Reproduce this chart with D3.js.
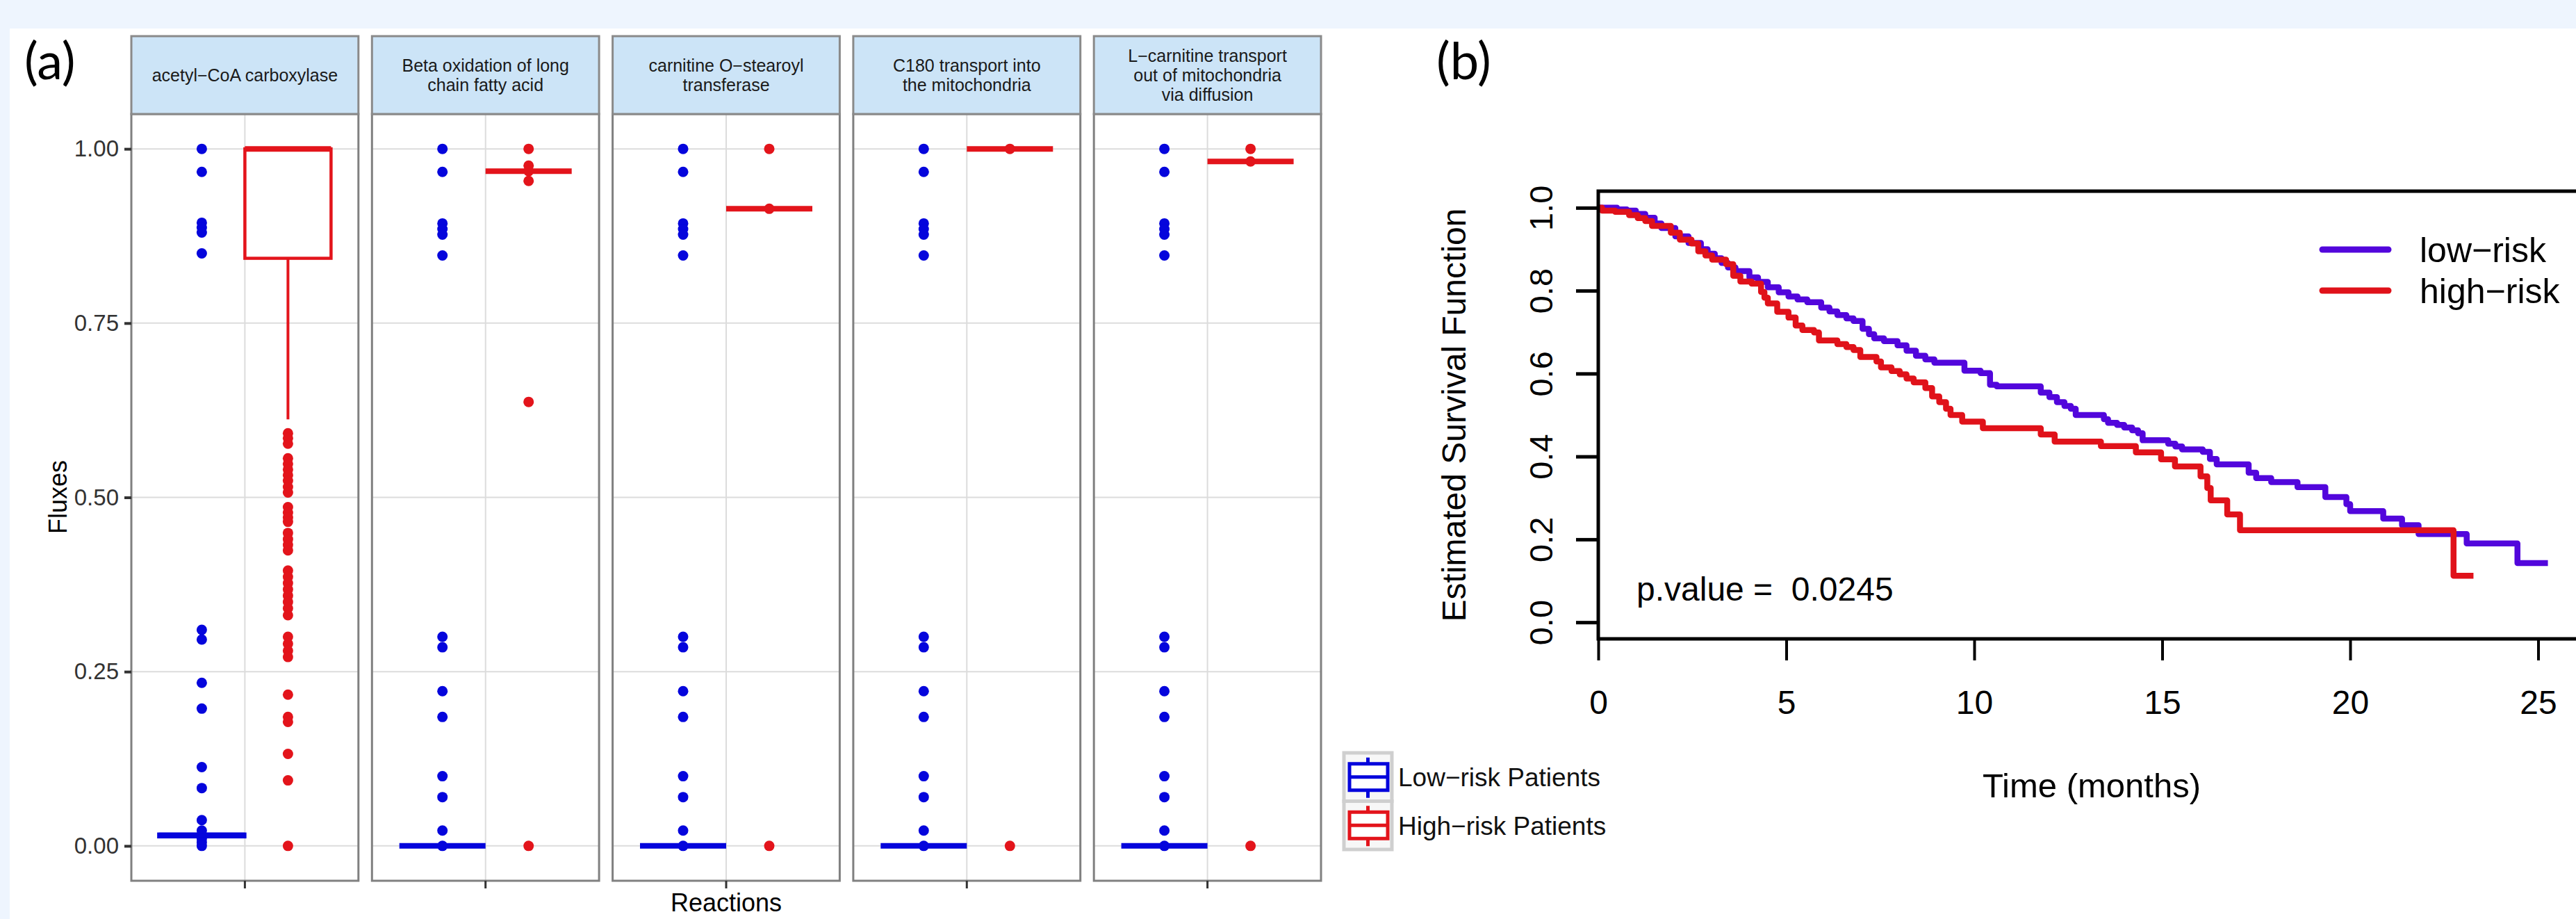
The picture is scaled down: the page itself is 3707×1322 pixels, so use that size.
<!DOCTYPE html>
<html>
<head>
<meta charset="utf-8">
<script src="https://cdn.jsdelivr.net/npm/d3@7"></script>
<style>
  html, body { margin: 0; padding: 0; background: #eef5fe; }
  svg { display: block; }
</style>
</head>
<body>
<svg id="chart" width="3707" height="1322"></svg>
<script>
// ---------------- DATA: panel (a) ----------------
const reactions = [
  "acetyl−CoA carboxylase",
  "Beta oxidation of long chain fatty acid",
  "carnitine O−stearoyl transferase",
  "C180 transport into the mitochondria",
  "L−carnitine transport out of mitochondria via diffusion"
];
const stripLines = [
  ["acetyl−CoA carboxylase"],
  ["Beta oxidation of long", "chain fatty acid"],
  ["carnitine O−stearoyl", "transferase"],
  ["C180 transport into", "the mitochondria"],
  ["L−carnitine transport", "out of mitochondria", "via diffusion"]
];
const groups = ["Low−risk Patients", "High−risk Patients"];
const fluxTicks = [0, 0.25, 0.5, 0.75, 1.0];

// box statistics: [lower whisker, q1, median, q3, upper whisker]
const lowBox = [
  [0.012, 0.013, 0.015, 0.017, 0.018],
  [0, 0, 0, 0, 0],
  [0, 0, 0, 0, 0],
  [0, 0, 0, 0, 0],
  [0, 0, 0, 0, 0]
];
const highBox = [
  [0.612, 0.843, 1.0, 1.0, 1.0],
  [0.968, 0.968, 0.968, 0.968, 0.968],
  [0.914, 0.914, 0.914, 0.914, 0.914],
  [1.0, 1.0, 1.0, 1.0, 1.0],
  [0.982, 0.982, 0.982, 0.982, 0.982]
];
const lowPoints1 = [1.0, 0.967, 0.894, 0.887, 0.880, 0.850, 0.310, 0.296, 0.234, 0.197, 0.113, 0.083, 0.037, 0.022, 0.010, 0.005, 0.0];
const lowPoints2 = [1.0, 0.967, 0.893, 0.885, 0.877, 0.847, 0.300, 0.285, 0.222, 0.185, 0.100, 0.070, 0.022, 0.0];
const lowPoints3 = [1.0, 0.967, 0.893, 0.885, 0.877, 0.847, 0.300, 0.285, 0.222, 0.185, 0.100, 0.070, 0.022, 0.0];
const lowPoints4 = [1.0, 0.967, 0.893, 0.885, 0.877, 0.847, 0.300, 0.285, 0.222, 0.185, 0.100, 0.070, 0.022, 0.0];
const lowPoints5 = [1.0, 0.967, 0.893, 0.885, 0.877, 0.847, 0.300, 0.285, 0.222, 0.185, 0.100, 0.070, 0.022, 0.0];
const highPoints1 = [0.592, 0.585, 0.577, 0.556, 0.548, 0.540, 0.532, 0.524, 0.515, 0.507, 0.486, 0.478, 0.471, 0.465,
  0.449, 0.440, 0.432, 0.424, 0.395, 0.386, 0.377, 0.368, 0.359, 0.350, 0.341, 0.331, 0.300, 0.290, 0.280, 0.271,
  0.217, 0.185, 0.178, 0.132, 0.094, 0.0];
const highPoints2 = [1.0, 0.976, 0.968, 0.954, 0.637, 0.0];
const highPoints3 = [1.0, 0.914, 0.0];
const highPoints4 = [1.0, 0.0];
const highPoints5 = [1.0, 0.982, 0.0];
const lowPoints = [lowPoints1, lowPoints2, lowPoints3, lowPoints4, lowPoints5];
const highPoints = [highPoints1, highPoints2, highPoints3, highPoints4, highPoints5];

// ---------------- DATA: panel (b) ----------------
const lowRiskTime = [0, 0.5, 0.76, 1.0, 1.25, 1.5, 1.68, 2.05, 2.4, 2.73, 2.91, 3.1, 3.28, 3.45, 3.65, 4.02, 4.25, 4.51,
  4.8, 5.06, 5.3, 5.56, 5.93, 6.15, 6.36, 6.6, 6.79, 7.03, 7.2, 7.34, 7.6, 7.96, 8.2, 8.45, 8.7, 8.94, 9.74, 10.17,
  10.42, 10.6, 11.77, 12.0, 12.2, 12.4, 12.57, 12.7, 13.45, 13.56, 13.8, 13.99, 14.2, 14.36, 14.48, 15.16, 15.35,
  15.53, 16.08, 16.27, 16.45, 17.3, 17.5, 17.9, 18.6, 19.34, 19.9, 20.0, 20.88, 21.38, 21.82, 23.1, 24.45, 25.26];
const lowRiskSurv = [1.0, 0.996, 0.993, 0.985, 0.976, 0.962, 0.951, 0.931, 0.915, 0.900, 0.889, 0.878, 0.867, 0.856,
  0.847, 0.832, 0.821, 0.808, 0.796, 0.786, 0.779, 0.772, 0.759, 0.750, 0.741, 0.733, 0.727, 0.708, 0.695, 0.685,
  0.678, 0.668, 0.655, 0.643, 0.634, 0.626, 0.607, 0.601, 0.573, 0.569, 0.554, 0.543, 0.531, 0.522, 0.515, 0.500,
  0.490, 0.481, 0.476, 0.470, 0.463, 0.456, 0.439, 0.431, 0.424, 0.417, 0.411, 0.394, 0.381, 0.361, 0.348, 0.338,
  0.326, 0.302, 0.285, 0.268, 0.250, 0.234, 0.213, 0.190, 0.143, 0.143];
const highRiskTime = [0, 0.1, 0.45, 0.82, 1.05, 1.25, 1.43, 1.93, 2.17, 2.48, 2.66, 2.85, 3.03, 3.4, 3.59, 3.78, 4.08,
  4.33, 4.42, 4.51, 4.76, 5.06, 5.25, 5.43, 5.74, 5.87, 6.36, 6.6, 6.79, 6.97, 7.4, 7.52, 7.8, 8.02, 8.2, 8.39, 8.7,
  8.88, 9.07, 9.25, 9.37, 9.68, 10.23, 11.77, 12.14, 13.37, 14.3, 14.97, 15.34, 16.02, 16.2, 16.29, 16.73, 17.07,
  22.75, 23.28];
const highRiskSurv = [1.0, 0.993, 0.990, 0.982, 0.975, 0.968, 0.956, 0.940, 0.923, 0.914, 0.895, 0.885, 0.875, 0.864,
  0.836, 0.822, 0.817, 0.797, 0.783, 0.769, 0.749, 0.735, 0.716, 0.705, 0.699, 0.680, 0.671, 0.664, 0.657, 0.640,
  0.629, 0.615, 0.606, 0.598, 0.588, 0.579, 0.565, 0.545, 0.531, 0.515, 0.500, 0.484, 0.468, 0.453, 0.436, 0.425,
  0.410, 0.393, 0.376, 0.352, 0.324, 0.294, 0.260, 0.222, 0.112, 0.112];
const timeTicks = [0, 5, 10, 15, 20, 25];
const survTicks = [0, 0.2, 0.4, 0.6, 0.8, 1.0];
const survLegend = ["low−risk", "high−risk"];
const pValueText = "p.value =  0.0245";

// ---------------- STYLE ----------------
const W = 3707, H = 1322;
const FONT = "'Liberation Sans', Arial, Helvetica, sans-serif";
const BLUE = "#0505dc", RED = "#e3141b";
const LOWC = "#5206dc", HIGHC = "#e0121a";

const svg = d3.select("#chart");
svg.append("rect").attr("width", W).attr("height", H).attr("fill", "#eef5fe");
svg.append("rect").attr("x", 14).attr("y", 41).attr("width", W - 14).attr("height", H - 41).attr("fill", "#ffffff");

// ================= PANEL (a) =================
const facetX = d3.scaleBand().domain(reactions).range([189, 1901]).paddingInner(0.0563);
const yFlux = d3.scaleLinear().domain([-0.05, 1.05]).range([1267, 164]);
const stripTop = 52, stripBottom = 164;
const gA = svg.append("g");

reactions.forEach((r, i) => {
  const x0 = facetX(r), bw = facetX.bandwidth(), cx = x0 + bw / 2;
  const gx = d3.scaleBand().domain(groups).range([cx - 124, cx + 124]);
  const g = gA.append("g");
  g.append("rect").attr("x", x0).attr("y", stripBottom).attr("width", bw)
    .attr("height", yFlux(-0.05) - stripBottom).attr("fill", "#ffffff");
  g.selectAll("line.hg").data(fluxTicks).join("line").attr("class", "hg")
    .attr("x1", x0).attr("x2", x0 + bw).attr("y1", d => yFlux(d)).attr("y2", d => yFlux(d))
    .attr("stroke", "#dcdcdc").attr("stroke-width", 2);
  g.append("line").attr("x1", cx).attr("x2", cx).attr("y1", stripBottom).attr("y2", yFlux(-0.05))
    .attr("stroke", "#dcdcdc").attr("stroke-width", 2);

  const sets = [
    { grp: groups[0], s: lowBox[i], pts: lowPoints[i], col: BLUE },
    { grp: groups[1], s: highBox[i], pts: highPoints[i], col: RED }
  ];
  sets.forEach(o => {
    const bx = gx(o.grp), w = gx.bandwidth(), mx = bx + w / 2, s = o.s;
    g.append("line").attr("x1", mx).attr("x2", mx).attr("y1", yFlux(s[3])).attr("y2", yFlux(s[4]))
      .attr("stroke", o.col).attr("stroke-width", 4);
    g.append("line").attr("x1", mx).attr("x2", mx).attr("y1", yFlux(s[1])).attr("y2", yFlux(s[0]))
      .attr("stroke", o.col).attr("stroke-width", 4);
    g.append("rect").attr("x", bx).attr("y", yFlux(s[3])).attr("width", w)
      .attr("height", Math.max(0, yFlux(s[1]) - yFlux(s[3])))
      .attr("fill", "#ffffff").attr("stroke", o.col).attr("stroke-width", 4.5);
    g.append("line").attr("x1", bx).attr("x2", bx + w).attr("y1", yFlux(s[2])).attr("y2", yFlux(s[2]))
      .attr("stroke", o.col).attr("stroke-width", 8);
    g.selectAll(null).data(o.pts).join("circle")
      .attr("cx", mx).attr("cy", d => yFlux(d)).attr("r", 7.5).attr("fill", o.col);
  });

  g.append("rect").attr("x", x0).attr("y", stripBottom).attr("width", bw)
    .attr("height", yFlux(-0.05) - stripBottom).attr("fill", "none")
    .attr("stroke", "#808080").attr("stroke-width", 3);
  g.append("rect").attr("x", x0).attr("y", stripTop).attr("width", bw).attr("height", stripBottom - stripTop)
    .attr("fill", "#cce4f7").attr("stroke", "#8a8a8a").attr("stroke-width", 3);
  const lines = stripLines[i];
  const midY = (stripTop + stripBottom) / 2;
  const lh = 28;
  lines.forEach((t, k) => {
    g.append("text").attr("x", cx).attr("y", midY + (k - (lines.length - 1) / 2) * lh)
      .attr("dy", "0.35em").attr("text-anchor", "middle")
      .attr("font-family", FONT).attr("font-size", 25).attr("fill", "#1a1a1a").text(t);
  });
});

// y axis (a)
const axA = gA.append("g").attr("transform", "translate(189,0)")
  .call(d3.axisLeft(yFlux).tickValues(fluxTicks).tickFormat(d3.format(".2f")).tickSize(10).tickPadding(8));
axA.select(".domain").remove();
axA.selectAll(".tick line").attr("stroke", "#333").attr("stroke-width", 4);
axA.selectAll(".tick text").attr("font-family", FONT).attr("font-size", 33).attr("fill", "#333");

// x axis (a) ticks at facet centers
const axAx = gA.append("g").attr("transform", `translate(0,${yFlux(-0.05)})`)
  .call(d3.axisBottom(facetX).tickSize(11).tickFormat(""));
axAx.select(".domain").remove();
axAx.selectAll(".tick line").attr("stroke", "#333").attr("stroke-width", 3);

gA.append("text").attr("transform", "translate(96,715) rotate(-90)").attr("text-anchor", "middle")
  .attr("font-family", FONT).attr("font-size", 36).attr("fill", "#000").text("Fluxes");
gA.append("text").attr("x", 1045).attr("y", 1311).attr("text-anchor", "middle")
  .attr("font-family", FONT).attr("font-size", 36).attr("fill", "#000").text("Reactions");

// legend (a)
const legA = svg.append("g");
const keyY = d3.scaleBand().domain(groups).range([1083, 1222]);
const legCols = [BLUE, RED];
groups.forEach((grp, k) => {
  const y0 = keyY(grp), kh = keyY.bandwidth(), cy = y0 + kh / 2;
  legA.append("rect").attr("x", 1934).attr("y", y0).attr("width", 69).attr("height", kh)
    .attr("fill", "#f7f7f7").attr("stroke", "#cfcfcf").attr("stroke-width", 5);
  const col = legCols[k];
  legA.append("line").attr("x1", 1968.5).attr("x2", 1968.5).attr("y1", cy - 28).attr("y2", cy + 30)
    .attr("stroke", col).attr("stroke-width", 5);
  legA.append("rect").attr("x", 1942).attr("y", cy - 19).attr("width", 55).attr("height", 38)
    .attr("fill", "#ffffff").attr("stroke", col).attr("stroke-width", 5);
  legA.append("line").attr("x1", 1942).attr("x2", 1997).attr("y1", cy).attr("y2", cy)
    .attr("stroke", col).attr("stroke-width", 5);
  legA.append("text").attr("x", 2012).attr("y", cy).attr("dy", "0.36em")
    .attr("font-family", FONT).attr("font-size", 37).attr("fill", "#111").text(grp);
});

// label (a)
svg.append("text").attr("x", 35).attr("y", 114).attr("font-family", "Lato, 'Open Sans', sans-serif")
  .attr("font-size", 74).attr("fill", "#000").text("(a)");

// ================= PANEL (b) =================
const gB = svg.append("g");
const xTime = d3.scaleLinear().domain([0, 25]).range([2300, 3652.5]);
const ySurv = d3.scaleLinear().domain([-0.04, 1.04]).range([919, 275]);

svg.append("text").attr("x", 2067).attr("y", 114).attr("font-family", "Lato, 'Open Sans', sans-serif")
  .attr("font-size", 74).attr("fill", "#000").text("(b)");

const stepLine = d3.line().curve(d3.curveStepAfter);
gB.append("path")
  .attr("d", stepLine(lowRiskTime.map((t, i) => [xTime(t), ySurv(lowRiskSurv[i])])))
  .attr("fill", "none").attr("stroke", LOWC).attr("stroke-width", 8.5).attr("stroke-linejoin", "round");
gB.append("path")
  .attr("d", stepLine(highRiskTime.map((t, i) => [xTime(t), ySurv(highRiskSurv[i])])))
  .attr("fill", "none").attr("stroke", HIGHC).attr("stroke-width", 8.5).attr("stroke-linejoin", "round");

// box
const x0b = xTime.range()[0];
gB.append("path")
  .attr("d", `M${W + 20},${ySurv(1.04)}H${x0b}V${ySurv(-0.04)}H${W + 20}`)
  .attr("fill", "none").attr("stroke", "#000").attr("stroke-width", 5);

// x axis (b)
const axBx = gB.append("g").attr("transform", `translate(0,${ySurv(-0.04)})`)
  .call(d3.axisBottom(xTime).tickValues(timeTicks).tickSize(31).tickFormat(d3.format("d")));
axBx.select(".domain").remove();
axBx.selectAll(".tick line").attr("stroke", "#000").attr("stroke-width", 4);
axBx.selectAll(".tick text").attr("y", 108).attr("dy", null)
  .attr("font-family", FONT).attr("font-size", 48).attr("fill", "#000");

// y axis (b)
const axBy = gB.append("g").attr("transform", `translate(${x0b},0)`)
  .call(d3.axisLeft(ySurv).tickValues(survTicks).tickSize(32).tickFormat(d3.format(".1f")));
axBy.select(".domain").remove();
axBy.selectAll(".tick line").attr("stroke", "#000").attr("stroke-width", 5);
axBy.selectAll(".tick text").attr("x", null).attr("dy", null)
  .attr("transform", "translate(-66,0) rotate(-90)").attr("text-anchor", "middle")
  .attr("font-family", FONT).attr("font-size", 47).attr("fill", "#000");

gB.append("text").attr("transform", `translate(2109,${ySurv(0.5)}) rotate(-90)`).attr("text-anchor", "middle")
  .attr("font-family", FONT).attr("font-size", 48).attr("fill", "#000").text("Estimated Survival Function");
gB.append("text").attr("x", 3010).attr("y", 1147).attr("text-anchor", "middle")
  .attr("font-family", FONT).attr("font-size", 49).attr("fill", "#000").text("Time (months)");
gB.append("text").attr("x", 2355).attr("y", 864).style("white-space", "pre").attr("xml:space", "preserve")
  .attr("font-family", FONT).attr("font-size", 48).attr("fill", "#000").text(pValueText);

// legend (b)
const legY = d3.scalePoint().domain(survLegend).range([359, 418]);
const legColsB = [LOWC, HIGHC];
survLegend.forEach((lab, k) => {
  gB.append("line").attr("x1", 3342).attr("x2", 3437).attr("y1", legY(lab)).attr("y2", legY(lab))
    .attr("stroke", legColsB[k]).attr("stroke-width", 9).attr("stroke-linecap", "round");
  gB.append("text").attr("x", 3482).attr("y", legY(lab)).attr("dy", "0.36em")
    .attr("font-family", FONT).attr("font-size", 50).attr("fill", "#000").text(lab);
});
</script>
</body>
</html>
